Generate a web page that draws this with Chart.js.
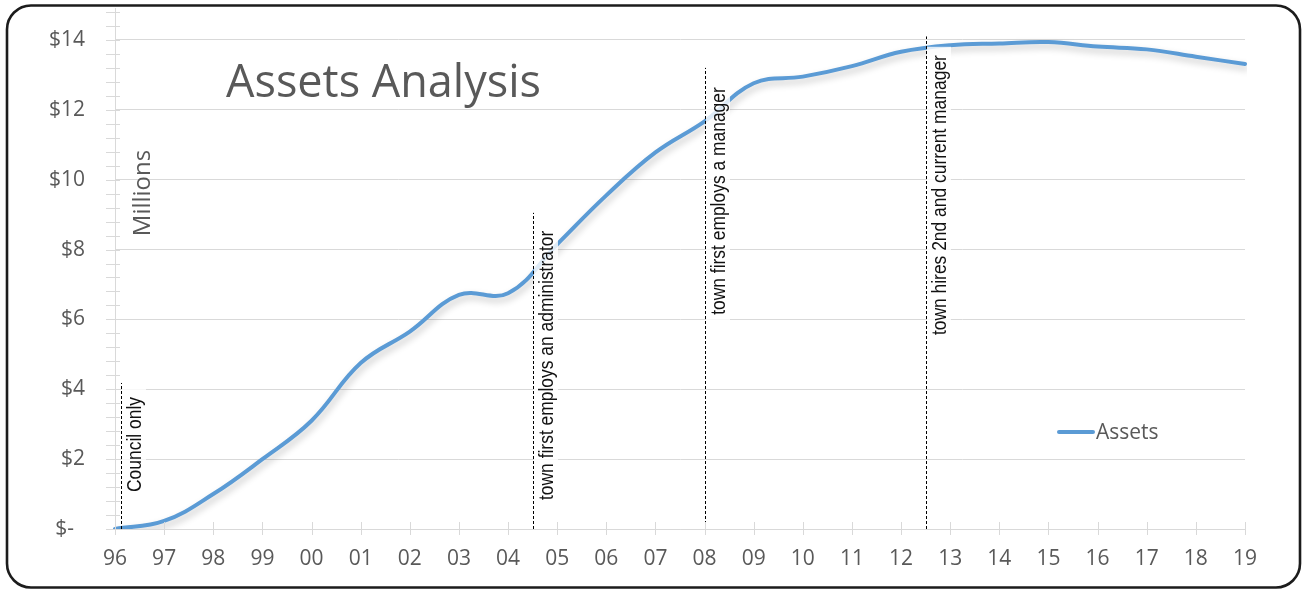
<!DOCTYPE html>
<html>
<head>
<meta charset="utf-8">
<title>Assets Analysis</title>
<script src="https://cdn.jsdelivr.net/npm/chart.js@4.4.1/dist/chart.umd.min.js"></script>
<style>
  html, body { margin: 0; padding: 0; background: #ffffff; }
  canvas { display: block; }
</style>
</head>
<body>
<canvas id="chart" width="1303" height="590"></canvas>
<script>
// Fiscal years (two-digit) along the bottom axis
const years = ['96','97','98','99','00','01','02','03','04','05','06','07','08','09','10','11','12','13','14','15','16','17','18','19'];

// Total assets, in millions of dollars
const assets = [0.00, 0.23, 1.00, 2.00, 3.10, 4.75, 5.65, 6.70, 6.75, 8.15, 9.55, 10.78, 11.67, 12.76, 12.95, 13.25, 13.66, 13.85, 13.90, 13.94, 13.81, 13.73, 13.52, 13.31];

// Value-axis tick values and their accounting-style labels
const yTickValues = [0, 2, 4, 6, 8, 10, 12, 14];
const yTickLabels = ['$-', '$2', '$4', '$6', '$8', '$10', '$12', '$14'];

// Staffing milestones: position on the year axis, height of the marker line ($M), label start ($M)
const eventNames  = ['Council only', 'town first employs an administrator', 'town first employs a manager', 'town hires 2nd and current manager'];
const eventAt     = [0.12, 8.5, 12, 16.5];
const eventTop    = [4.18, 9.05, 13.2, 14.1];
const eventTextAt = [1.06, 0.83, 6.13, 5.55];

const GREY_TEXT = '#595959';
const GRID = '#D9D9D9';
const LINE_BLUE = '#5B9BD5';

Chart.defaults.font.family = '"Open Sans", "DejaVu Sans", sans-serif';

// soft drop shadow under the series line
const lineShadow = {
  id: 'lineShadow',
  beforeDatasetDraw(chart) {
    const ctx = chart.ctx;
    ctx.save();
    ctx.shadowColor = 'rgba(0,0,0,0.22)';
    ctx.shadowBlur = 7;
    ctx.shadowOffsetX = 2;
    ctx.shadowOffsetY = 4;
  },
  afterDatasetDraw(chart) {
    chart.ctx.restore();
  }
};

// milestone markers: dashed vertical line plus a rotated caption on a pale box
const milestones = {
  id: 'milestones',
  afterDatasetsDraw(chart) {
    const ctx = chart.ctx;
    const xs = chart.scales.x, ys = chart.scales.y;
    const yBase = ys.getPixelForValue(0);
    eventNames.forEach((name, i) => {
      const x = Math.round(xs.getPixelForValue(eventAt[i])) + 0.5;
      const yTop = ys.getPixelForValue(eventTop[i]);

      // caption
      ctx.save();
      ctx.translate(x + 19, ys.getPixelForValue(eventTextAt[i]));
      ctx.rotate(-Math.PI / 2);
      ctx.scale(0.83, 1);
      ctx.font = '21px "Liberation Sans", Arial, sans-serif';
      const w = ctx.measureText(name).width;
      ctx.fillStyle = 'rgba(255,255,255,0.8)';
      ctx.fillRect(-7, -18.5, w + 17, 24);
      ctx.fillStyle = '#111111';
      ctx.textBaseline = 'alphabetic';
      ctx.textAlign = 'left';
      ctx.fillText(name, 0, 0);
      ctx.restore();

      // dashed marker
      ctx.save();
      ctx.strokeStyle = '#000000';
      ctx.lineWidth = 1;
      ctx.setLineDash([3, 2]);
      ctx.beginPath();
      ctx.moveTo(x, yBase);
      ctx.lineTo(x, yTop);
      ctx.stroke();
      ctx.restore();
    });
  }
};

// title, unit caption, tick marks across the axes, legend and frame
const decorations = {
  id: 'decorations',
  afterDraw(chart) {
    const ctx = chart.ctx;
    const xs = chart.scales.x, ys = chart.scales.y;
    const area = chart.chartArea;

    // tick marks crossing the value axis, every 0.4
    ctx.save();
    ctx.strokeStyle = GRID;
    ctx.lineWidth = 1;
    ctx.beginPath();
    for (let k = 0; k <= 37; k++) {
      const y = Math.round(ys.getPixelForValue(k * 0.4)) + 0.5;
      ctx.moveTo(area.left - 9, y);
      ctx.lineTo(area.left + 5, y);
    }
    // tick marks crossing the year axis
    years.forEach((_, i) => {
      const x = Math.round(xs.getPixelForValue(i)) + 0.5;
      ctx.moveTo(x, area.bottom - 7);
      ctx.lineTo(x, area.bottom + 6);
    });
    ctx.stroke();
    ctx.restore();

    // chart title
    ctx.save();
    ctx.fillStyle = GREY_TEXT;
    ctx.font = '45px "Open Sans", sans-serif';
    ctx.textBaseline = 'alphabetic';
    ctx.textAlign = 'left';
    ctx.fillText('Assets Analysis', 226, 97);
    ctx.restore();

    // unit caption
    ctx.save();
    ctx.translate(150, 193);
    ctx.rotate(-Math.PI / 2);
    ctx.fillStyle = GREY_TEXT;
    ctx.font = '24px "Open Sans", sans-serif';
    ctx.textAlign = 'center';
    ctx.textBaseline = 'alphabetic';
    ctx.fillText('Millions', 0, 0);
    ctx.restore();

    // legend
    const ds = chart.data.datasets[0];
    ctx.save();
    ctx.strokeStyle = ds.borderColor;
    ctx.lineWidth = 4;
    ctx.lineCap = 'round';
    ctx.beginPath();
    ctx.moveTo(1059, 432);
    ctx.lineTo(1093, 432);
    ctx.stroke();
    ctx.fillStyle = GREY_TEXT;
    ctx.font = '21px "Open Sans", sans-serif';
    ctx.textBaseline = 'alphabetic';
    ctx.fillText(ds.label, 1096, 439);
    ctx.restore();

    // rounded frame
    ctx.save();
    ctx.strokeStyle = '#1c1c1c';
    ctx.lineWidth = 2.6;
    ctx.beginPath();
    ctx.roundRect(7, 5.5, 1293, 582, 24);
    ctx.stroke();
    ctx.restore();
  }
};

new Chart(document.getElementById('chart'), {
  type: 'line',
  data: {
    labels: years,
    datasets: [{
      label: 'Assets',
      data: assets,
      borderColor: LINE_BLUE,
      backgroundColor: LINE_BLUE,
      borderWidth: 4,
      borderCapStyle: 'round',
      borderJoinStyle: 'round',
      pointRadius: 0,
      pointHoverRadius: 0,
      tension: 0.4,
      fill: false
    }]
  },
  options: {
    responsive: false,
    animation: false,
    devicePixelRatio: 1,
    layout: { autoPadding: false, padding: { left: 0, right: 58, top: 8.5, bottom: 0 } },
    plugins: {
      legend: { display: false },
      title: { display: false },
      tooltip: { enabled: false }
    },
    scales: {
      x: {
        type: 'category',
        offset: false,
        grid: { display: false, drawTicks: false },
        border: { display: true, color: GRID, width: 1 },
        ticks: {
          color: GREY_TEXT,
          font: { size: 21 },
          padding: 17,
          autoSkip: false,
          maxRotation: 0
        },
        afterFit(scale) {
          scale.height = 61;
          scale.paddingLeft = 0;
          scale.paddingRight = 0;
        }
      },
      y: {
        min: 0,
        max: 14.9,
        grid: { color: GRID, lineWidth: 1, drawTicks: false },
        border: { display: true, color: GRID, width: 1 },
        ticks: {
          stepSize: 2,
          includeBounds: false,
          autoSkip: false,
          color: GREY_TEXT,
          font: { size: 21 },
          padding: 30,
          callback(value) {
            const i = yTickValues.indexOf(Math.round(value));
            if (i < 0) return '';
            return value === 0 ? yTickLabels[i] + '  ' : yTickLabels[i];
          }
        },
        afterFit(scale) {
          scale.width = 115;
          scale.paddingTop = 0;
          scale.paddingBottom = 0;
        }
      }
    }
  },
  plugins: [lineShadow, milestones, decorations]
});
</script>
</body>
</html>
